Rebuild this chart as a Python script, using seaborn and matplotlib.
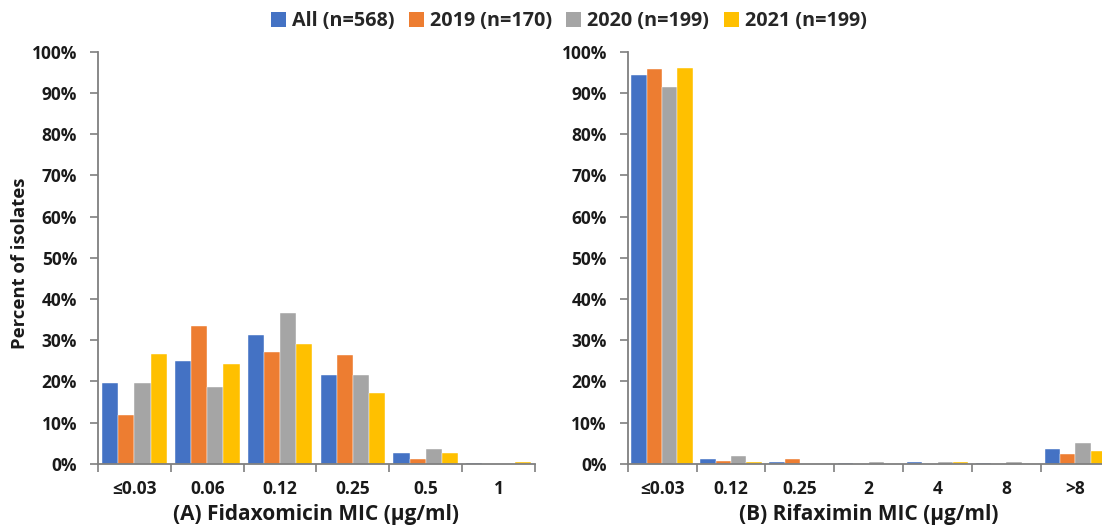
import matplotlib
matplotlib.use("Agg")
import matplotlib.pyplot as plt
from matplotlib.patches import Patch
from matplotlib.ticker import FixedLocator, PercentFormatter
import seaborn as sns
import pandas as pd

# Cohorts
groups = ["All (n=568)", "2019 (n=170)", "2020 (n=199)", "2021 (n=199)"]
colors = ["#4472C4", "#ED7D31", "#A5A5A5", "#FFC000"]

# Fidaxomicin MIC distribution (% of isolates)
fdx_mic = ["≤0.03", "0.06", "0.12", "0.25", "0.5", "1"]
fdx_all = [19.7, 25.0, 31.2, 21.5, 2.5, 0.2]
fdx_2019 = [11.8, 33.5, 27.1, 26.5, 1.2, 0.0]
fdx_2020 = [19.6, 18.6, 36.7, 21.6, 3.5, 0.0]
fdx_2021 = [26.6, 24.1, 29.1, 17.1, 2.5, 0.5]

# Rifaximin MIC distribution (% of isolates)
rfx_mic = ["≤0.03", "0.12", "0.25", "2", "4", "8", ">8"]
rfx_all = [94.4, 1.1, 0.35, 0.18, 0.35, 0.18, 3.5]
rfx_2019 = [95.9, 0.6, 1.2, 0.0, 0.0, 0.0, 2.4]
rfx_2020 = [91.5, 2.0, 0.0, 0.5, 0.5, 0.5, 5.0]
rfx_2021 = [96.0, 0.5, 0.0, 0.0, 0.5, 0.0, 3.0]

ytick_vals = [0, 10, 20, 30, 40, 50, 60, 70, 80, 90, 100]


def long_frame(mics, series):
    rows = []
    for g, vals in zip(groups, series):
        for m, v in zip(mics, vals):
            rows.append({"mic": m, "group": g, "pct": v})
    return pd.DataFrame(rows)


df_fdx = long_frame(fdx_mic, [fdx_all, fdx_2019, fdx_2020, fdx_2021])
df_rfx = long_frame(rfx_mic, [rfx_all, rfx_2019, rfx_2020, rfx_2021])

sns.set_theme(style="white")
plt.rcParams["font.family"] = ["Open Sans", "DejaVu Sans"]
plt.rcParams["font.weight"] = "bold"

fig = plt.figure(figsize=(11.02, 5.30), dpi=100)
ax1 = fig.add_axes([0.0889, 0.125, 0.3966, 0.7775])
ax2 = fig.add_axes([0.5696, 0.125, 0.4374, 0.7775])

axis_color = "#7f7f7f"
text_color = "#1a1a1a"
for ax, df, mics, xlabel in [
    (ax1, df_fdx, fdx_mic, "(A) Fidaxomicin MIC (µg/ml)"),
    (ax2, df_rfx, rfx_mic, "(B) Rifaximin MIC (µg/ml)"),
]:
    sns.barplot(data=df, x="mic", y="pct", hue="group", order=mics,
                hue_order=groups, palette=colors, width=0.89, gap=0,
                saturation=1, legend=False, ax=ax, errorbar=None,
                edgecolor="white", linewidth=0.3)
    ax.set_xlim(-0.5, len(mics) - 0.5)
    ax.set_ylim(0, 100)
    ax.yaxis.set_major_locator(FixedLocator(ytick_vals))
    ax.yaxis.set_major_formatter(PercentFormatter(decimals=0))
    ax.xaxis.set_minor_locator(FixedLocator([i - 0.5 for i in range(len(mics) + 1)]))
    ax.tick_params(axis="x", which="major", length=0, pad=12, labelsize=12.5)
    ax.tick_params(axis="x", which="minor", length=6, width=1.2, color=axis_color,
                   direction="out", bottom=True)
    ax.tick_params(axis="y", which="major", length=6, width=1.2, color=axis_color,
                   direction="out", labelsize=12.5, pad=9, left=True)
    for lab in ax.get_xticklabels() + ax.get_yticklabels():
        lab.set_fontweight("bold")
        lab.set_color(text_color)
    for s in ["top", "right"]:
        ax.spines[s].set_visible(False)
    for s in ["left", "bottom"]:
        ax.spines[s].set_color(axis_color)
        ax.spines[s].set_linewidth(1.3)
    ax.set_xlabel(xlabel, fontsize=15, fontweight="bold", color=text_color, labelpad=4)
    ax.set_ylabel("")

fig.text(20 / 1102, 1 - 263 / 530, "Percent of isolates", rotation=90, ha="center",
         va="center", fontsize=13.3, fontweight="bold", color=text_color)

handles = [Patch(facecolor=c, edgecolor="none") for c in colors]
fig.legend(handles, groups, loc="upper center", bbox_to_anchor=(0.516, 1.012), ncol=4,
           frameon=False, handlelength=0.75, handleheight=0.75, handletextpad=0.3,
           columnspacing=0.75, prop={"weight": "bold", "size": 14.2})

fig.savefig("out.png", dpi=100)
